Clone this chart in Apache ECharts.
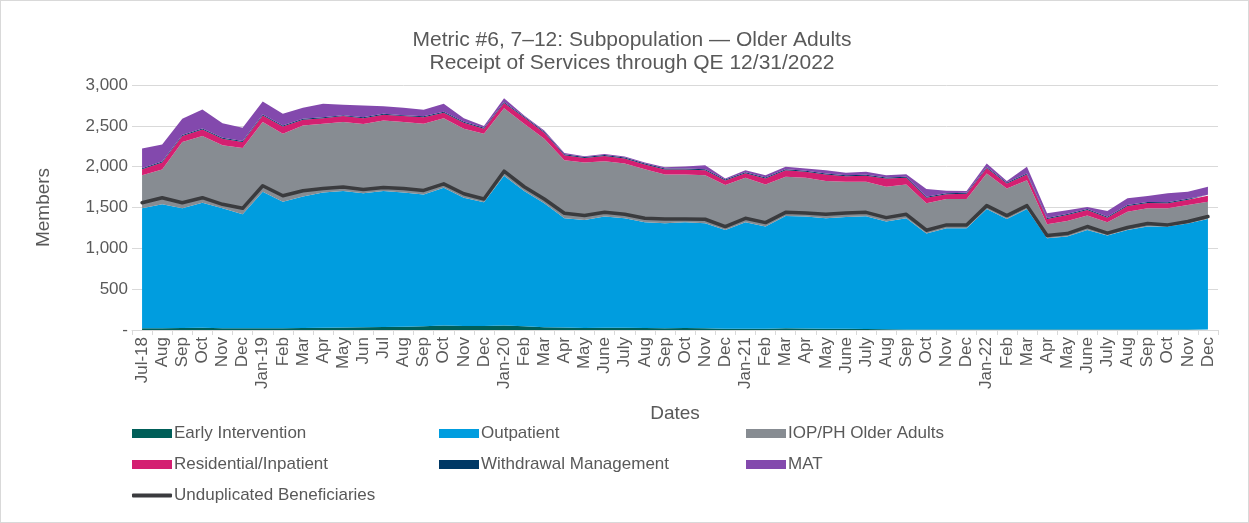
<!DOCTYPE html>
<html>
<head>
<meta charset="utf-8">
<script src="https://cdn.jsdelivr.net/npm/echarts@6/dist/echarts.min.js"></script>
<style>
html,body{margin:0;padding:0;background:#fff;}
#c{width:1249px;height:523px;box-sizing:border-box;border:1px solid #d9d9d9;}
</style>
</head>
<body>
<div id="c"></div>
<script>
const categories = ['Jul-18','Aug','Sep','Oct','Nov','Dec','Jan-19','Feb','Mar','Apr','May','Jun','Jul','Aug','Sep','Oct','Nov','Dec','Jan-20','Feb','Mar','Apr','May','June','July','Aug','Sep','Oct','Nov','Dec','Jan-21','Feb','Mar','Apr','May','June','July','Aug','Sep','Oct','Nov','Dec','Jan-22','Feb','Mar','Apr','May','June','July','Aug','Sep','Oct','Nov','Dec'];

const earlyIntervention = [20,22,25,28,22,20,22,22,25,28,30,35,38,40,45,55,50,50,55,45,35,30,25,28,28,25,22,25,22,15,15,15,20,18,15,15,12,8,5,5,5,5,5,5,5,5,5,5,5,5,5,5,5,5];
const outpatient = [1470,1517,1465,1531,1468,1397,1671,1549,1611,1657,1671,1638,1663,1645,1615,1687,1570,1513,1833,1656,1516,1338,1323,1361,1340,1295,1285,1295,1285,1211,1305,1252,1377,1371,1353,1369,1381,1320,1363,1176,1241,1241,1477,1355,1477,1120,1140,1221,1152,1221,1262,1262,1298,1355];
const iopOlderAdults = [406,426,812,816,771,812,853,833,869,840,845,848,865,861,865,852,844,841,828,824,792,711,702,678,670,649,597,584,589,548,544,515,479,475,455,431,422,426,414,370,358,358,434,374,353,170,191,175,162,223,223,223,227,211];
const residential = [73,85,73,81,82,73,81,89,69,69,73,73,69,73,81,65,74,60,65,77,73,61,57,65,61,57,61,61,61,57,56,73,81,73,81,69,73,101,82,69,57,65,69,60,69,65,73,69,57,69,65,61,66,73];
const withdrawal = [12,12,12,12,12,12,12,12,12,12,12,12,12,12,12,12,12,12,12,12,12,12,12,12,12,12,12,12,12,12,12,12,12,12,12,12,12,12,12,12,12,12,12,12,12,12,12,12,12,12,12,12,12,12];
const mat = [240,208,199,232,178,163,158,142,134,163,126,143,93,89,78,98,44,21,45,13,16,16,8,12,12,12,16,25,49,12,25,29,29,28,41,28,37,29,32,94,32,20,41,17,82,57,45,24,70,82,73,110,85,98];
const unduplicated = [1559,1620,1559,1620,1539,1490,1766,1644,1705,1734,1750,1721,1746,1734,1709,1790,1669,1604,1945,1754,1604,1429,1401,1441,1417,1368,1360,1360,1356,1267,1368,1315,1441,1433,1417,1433,1441,1376,1417,1222,1287,1287,1523,1401,1523,1157,1181,1267,1186,1255,1303,1287,1328,1389];
const yTicks = [0, 500, 1000, 1500, 2000, 2500, 3000];

const FONT = '"Liberation Sans", Arial, sans-serif';
const TXT = '#595959';

function area(name, data, color) {
  return {
    name: name, type: 'line', stack: 'total', data: data,
    symbol: 'none', lineStyle: { width: 0 }, itemStyle: { color: color },
    areaStyle: { color: color, opacity: 1 }, z: 2
  };
}

const chart = echarts.init(document.getElementById('c'), null, { renderer: 'canvas' });
const legendText = { color: TXT, fontFamily: FONT, fontSize: 17, lineHeight: 16, padding: [0, 0, 0, -3] };
const legendBase = { orient: 'vertical', padding: 0, itemWidth: 40, itemHeight: 9, itemGap: 14, icon: 'rect', textStyle: legendText };
chart.setOption({
  animation: false,
  backgroundColor: '#fff',
  title: {
    text: 'Metric #6, 7–12: Subpopulation — Older Adults\nReceipt of Services through QE 12/31/2022',
    left: 626, top: 23, textAlign: 'center',
    textStyle: { color: TXT, fontFamily: FONT, fontSize: 21, fontWeight: 'normal', lineHeight: 23 }
  },
  grid: { left: 131, right: 30, top: 84, bottom: 192, containLabel: false },
  legend: [
    Object.assign({}, legendBase, { left: 131, top: 424, data: ['Early Intervention', 'Residential/Inpatient'] }),
    Object.assign({}, legendBase, { left: 438, top: 424, data: ['Outpatient', 'Withdrawal Management'] }),
    Object.assign({}, legendBase, { left: 745, top: 424, data: ['IOP/PH Older Adults', 'MAT'] }),
    Object.assign({}, legendBase, { left: 131, top: 486, itemHeight: 4, icon: 'roundRect', data: ['Unduplicated Beneficiaries'] })
  ],
  xAxis: {
    type: 'category', data: categories, boundaryGap: true,
    name: 'Dates', nameLocation: 'middle', nameGap: 74,
    nameTextStyle: { color: TXT, fontFamily: FONT, fontSize: 19 },
    axisLine: { show: true, lineStyle: { color: '#d9d9d9', width: 1 } },
    axisTick: { show: true, length: 5, lineStyle: { color: '#d9d9d9' } },
    axisLabel: { rotate: 90, interval: 0, margin: 7, color: TXT, fontFamily: FONT, fontSize: 17 },
    splitLine: { show: false }
  },
  yAxis: {
    type: 'value', min: 0, max: 3000, interval: 500,
    name: 'Members', nameLocation: 'middle', nameGap: 79, nameRotate: 90,
    nameTextStyle: { color: TXT, fontFamily: FONT, fontSize: 19 },
    axisLine: { show: false }, axisTick: { show: false },
    axisLabel: { color: TXT, fontFamily: FONT, fontSize: 17, margin: 4,
      formatter: function (v) { return v === 0 ? '-' : v.toLocaleString('en-US'); } },
    splitLine: { lineStyle: { color: '#d9d9d9', width: 1 } }
  },
  series: [
    area('Early Intervention', earlyIntervention, '#005f59'),
    area('Outpatient', outpatient, '#009ddf'),
    area('IOP/PH Older Adults', iopOlderAdults, '#878c92'),
    area('Residential/Inpatient', residential, '#d41f71'),
    area('Withdrawal Management', withdrawal, '#003865'),
    area('MAT', mat, '#8349ad'),
    {
      name: 'Unduplicated Beneficiaries', type: 'line', data: unduplicated,
      symbol: 'none', z: 5,
      lineStyle: { color: '#3a3b3e', width: 3.5, cap: 'round', join: 'round' },
      itemStyle: { color: '#3a3b3e' }
    }
  ]
});
</script>
</body>
</html>
